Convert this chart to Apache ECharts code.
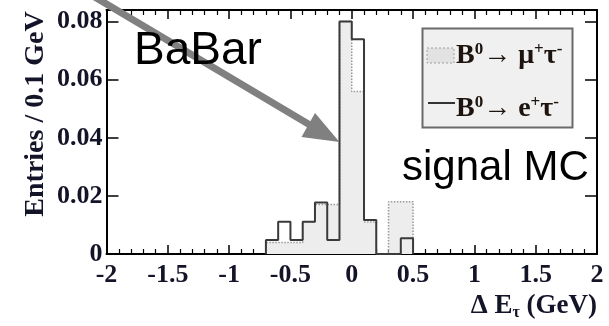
<!DOCTYPE html>
<html>
<head>
<meta charset="utf-8">
<script src="https://cdn.jsdelivr.net/npm/echarts@6/dist/echarts.min.js"></script>
<style>html,body{margin:0;padding:0;background:#fff;}#c{width:609px;height:326px;}</style>
</head>
<body>
<div id="c"></div>
<script>
// Bin low edges (bin width 0.1 GeV)
const binLow = [-0.7, -0.6, -0.5, -0.4, -0.3, -0.2, -0.1, 0.0, 0.1, 0.2, 0.3, 0.4];
const binWidth = 0.1;
// B0 -> e+ tau- (solid line)
const eTau = [0.0048, 0.0111, 0.0048, 0.0111, 0.0177, 0.0048, 0.0800, 0.0739, 0.0117, 0, 0, 0.0054];
// B0 -> mu+ tau- (dotted, shaded)
const muTau = [0.0040, 0.0040, 0.0040, 0.0110, 0.0170, 0.0170, 0.0800, 0.0559, 0.0110, 0, 0.0180, 0.0180];
const xTickLabels = ['-2', '-1.5', '-1', '-0.5', '0', '0.5', '1', '1.5', '2'];
const yTickLabels = ['0', '0.02', '0.04', '0.06', '0.08'];

function stepData(vals) {
  const d = [[binLow[0], 0]];
  for (let i = 0; i < vals.length; i++) d.push([binLow[i], vals[i]]);
  d.push([+(binLow[binLow.length - 1] + binWidth).toFixed(3), 0]);
  return d;
}
function fmtX(v) {
  const s = xTickLabels.find(t => Math.abs(parseFloat(t) - v) < 1e-6);
  return s === undefined ? '' : s;
}
function fmtY(v) {
  const s = yTickLabels.find(t => Math.abs(parseFloat(t) - v) < 1e-9);
  return s === undefined ? '' : s;
}

const serif = '"Liberation Serif", "DejaVu Serif", serif';
const sans = '"Liberation Sans", Arial, sans-serif';
const axisLine = { show: true, onZero: false, lineStyle: { color: '#000', width: 2 } };
const labelStyle = { fontFamily: serif, fontSize: 26, fontWeight: 'bold', color: '#141428' };

const chart = echarts.init(document.getElementById('c'), null, { renderer: 'canvas' });
chart.setOption({
  animation: false,
  backgroundColor: '#fff',
  grid: { left: 106.5, right: 12, top: 10, bottom: 72, containLabel: false },
  xAxis: [
    {
      type: 'value', min: -2, max: 2, interval: 0.5, position: 'bottom',
      axisLine: axisLine,
      axisTick: { show: true, inside: true, length: 9, lineStyle: { color: '#000', width: 1.5 } },
      minorTick: { show: true, splitNumber: 5, length: 5, lineStyle: { color: '#000', width: 1.2 } },
      splitLine: { show: false },
      axisLabel: Object.assign({ margin: 8, formatter: fmtX }, labelStyle)
    },
    {
      type: 'value', min: -2, max: 2, interval: 0.5, position: 'top',
      axisLine: axisLine,
      axisTick: { show: true, inside: true, length: 9, lineStyle: { color: '#000', width: 1.5 } },
      minorTick: { show: true, splitNumber: 5, length: 5, lineStyle: { color: '#000', width: 1.2 } },
      splitLine: { show: false },
      axisLabel: { show: false }
    }
  ],
  yAxis: [
    {
      type: 'value', min: 0, max: 0.084, interval: 0.02, position: 'left',
      axisLine: axisLine,
      axisTick: { show: true, inside: true, length: 12, lineStyle: { color: '#000', width: 1.5 } },
      splitLine: { show: false },
      axisLabel: Object.assign({ margin: 4, formatter: fmtY, showMaxLabel: false }, labelStyle)
    },
    {
      type: 'value', min: 0, max: 0.084, interval: 0.02, position: 'right',
      axisLine: axisLine,
      axisTick: { show: true, inside: true, length: 12, lineStyle: { color: '#000', width: 1.5 } },
      splitLine: { show: false },
      axisLabel: { show: false }
    }
  ],
  series: [
    {
      name: 'B0 -> mu+ tau-', type: 'line', step: 'end', xAxisIndex: 0, yAxisIndex: 0,
      data: stepData(muTau), symbol: 'none', z: 2,
      lineStyle: { color: '#9a9a9a', width: 1.5, type: 'dotted' },
      areaStyle: { color: '#ededed', opacity: 1 }
    },
    {
      name: 'B0 -> e+ tau-', type: 'line', step: 'end', xAxisIndex: 0, yAxisIndex: 0,
      data: stepData(eTau), symbol: 'none', z: 3,
      lineStyle: { color: '#3a3a3a', width: 2 }
    }
  ],
  graphic: [
    // y axis title
    { type: 'text', x: 36, y: 114, rotation: Math.PI / 2, z: 10,
      style: { text: 'Entries / 0.1 GeV', font: 'bold 28px ' + serif, fill: '#141428', align: 'center', verticalAlign: 'middle' } },
    // x axis title
    { type: 'text', x: 597, y: 306, z: 10,
      style: { text: '{m|Δ E}{s|τ}{m| (GeV)}', align: 'right', verticalAlign: 'middle',
        rich: { m: { fontFamily: serif, fontSize: 27, fontWeight: 'bold', fill: '#141428', lineHeight: 30 },
                s: { fontFamily: serif, fontSize: 16, fontWeight: 'bold', fill: '#141428', verticalAlign: 'bottom', lineHeight: 30, padding: [8, 0, 0, 0] } } } },
    // legend box
    { type: 'rect', shape: { x: 422.5, y: 28.5, width: 150, height: 99 }, z: 10,
      style: { fill: '#f0f0f0', stroke: '#6a6a6a', lineWidth: 2 } },
    { type: 'rect', shape: { x: 427, y: 48, width: 27, height: 15 }, z: 11,
      style: { fill: '#e2e2e2', stroke: '#a0a0a0', lineWidth: 1, lineDash: [2, 2] } },
    { type: 'line', shape: { x1: 428, y1: 103, x2: 455, y2: 103 }, z: 11,
      style: { stroke: '#333', lineWidth: 2 } },
    { type: 'text', x: 456, y: 56, z: 11,
      style: { text: '{b|B}{s|0}{b|→ μ}{s|+}{b|τ}{s|-}', align: 'left', verticalAlign: 'middle',
        rich: { b: { fontFamily: serif, fontSize: 28, fontWeight: 'bold', fill: '#1e140f', lineHeight: 30 },
                s: { fontFamily: serif, fontSize: 17, fontWeight: 'bold', fill: '#1e140f', verticalAlign: 'top', lineHeight: 30, padding: [0, 0, 9, 0] } } } },
    { type: 'text', x: 456, y: 109, z: 11,
      style: { text: '{b|B}{s|0}{b|→ e}{s|+}{b|τ}{s|-}', align: 'left', verticalAlign: 'middle',
        rich: { b: { fontFamily: serif, fontSize: 28, fontWeight: 'bold', fill: '#1e140f', lineHeight: 30 },
                s: { fontFamily: serif, fontSize: 17, fontWeight: 'bold', fill: '#1e140f', verticalAlign: 'top', lineHeight: 30, padding: [0, 0, 9, 0] } } } },
    // BaBar annotation with arrow
    { type: 'polyline', shape: { points: [[93, -4], [310, 125]] }, z: 12,
      style: { stroke: '#808080', lineWidth: 7 } },
    { type: 'polygon', shape: { points: [[339.5, 142], [301.5, 137], [315, 113]] }, z: 12,
      style: { fill: '#808080' } },
    { type: 'text', x: 198, y: 51, z: 13,
      style: { text: 'BaBar', font: '46px ' + sans, fill: '#000', align: 'center', verticalAlign: 'middle' } },
    { type: 'text', x: 402, y: 168, z: 13,
      style: { text: 'signal MC', font: '42px ' + sans, fill: '#000', align: 'left', verticalAlign: 'middle' } }
  ]
});
</script>
</body>
</html>
